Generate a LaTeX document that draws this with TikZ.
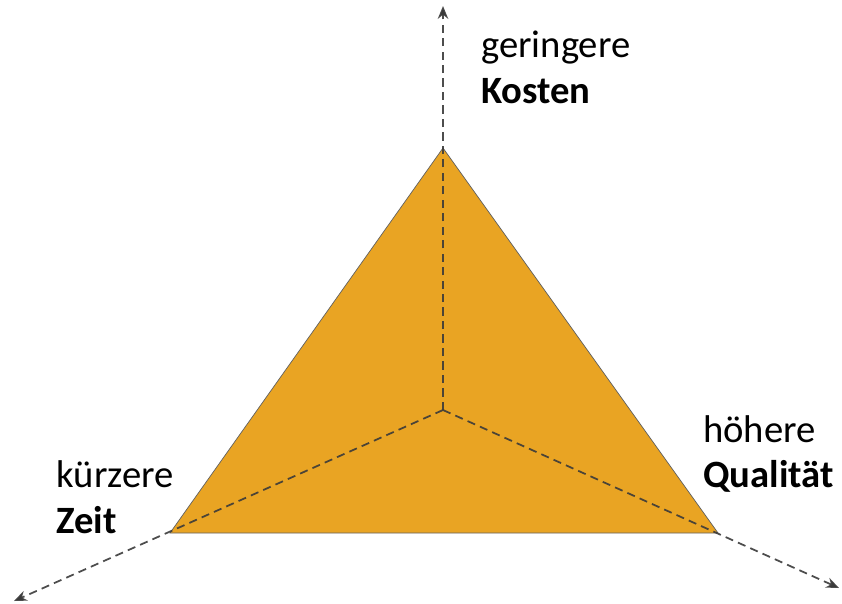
\documentclass[tikz,border=0pt]{standalone}
\usepackage{fontspec}
\setmainfont{Carlito}
\usepackage{xcolor}
\usetikzlibrary{arrows.meta,positioning,calc}

\definecolor{triorange}{HTML}{E9A423}
\definecolor{axisgray}{HTML}{3A3A3A}

\begin{document}
\begin{tikzpicture}[x=0.03cm, y=-0.03cm,
    axis/.style={line width=1.5pt, draw=axisgray, dash pattern=on 7pt off 4.5pt},
    tip/.style={-{Stealth[length=11pt,width=9pt]}},
    label/.style={font=\fontsize{33}{39}\selectfont, align=left, anchor=west, inner sep=0pt}]
  \useasboundingbox (0,0) rectangle (842,603);
  % corners and middle
  \coordinate (top) at (443,148);
  \coordinate (left) at (170,533);
  \coordinate (right) at (718,533);
  \coordinate (mid) at (443,410);
  \coordinate (topend) at (443,6);
  \coordinate (leftend) at (14,601);
  \coordinate (rightend) at (839,588);
  \fill[triorange, draw=axisgray!80, line width=0.6pt] (top) -- (right) -- (left) -- cycle;
  % axes
  \draw[axis, tip, draw opacity=0.9] (mid) -- (topend);
  \draw[axis, tip, draw opacity=0.9] (mid) -- (leftend);
  \draw[axis, tip, draw opacity=0.9] (mid) -- (rightend);
  % labels
  \node[label] (costs) at (481,67) {geringere\\\textbf{Kosten}};
  \node[label] (quality) at (703,454) {höhere\\\textbf{Qualität}};
  \node[label] (time) at (56,497) {kürzere\\\textbf{Zeit}};
\end{tikzpicture}
\end{document}
